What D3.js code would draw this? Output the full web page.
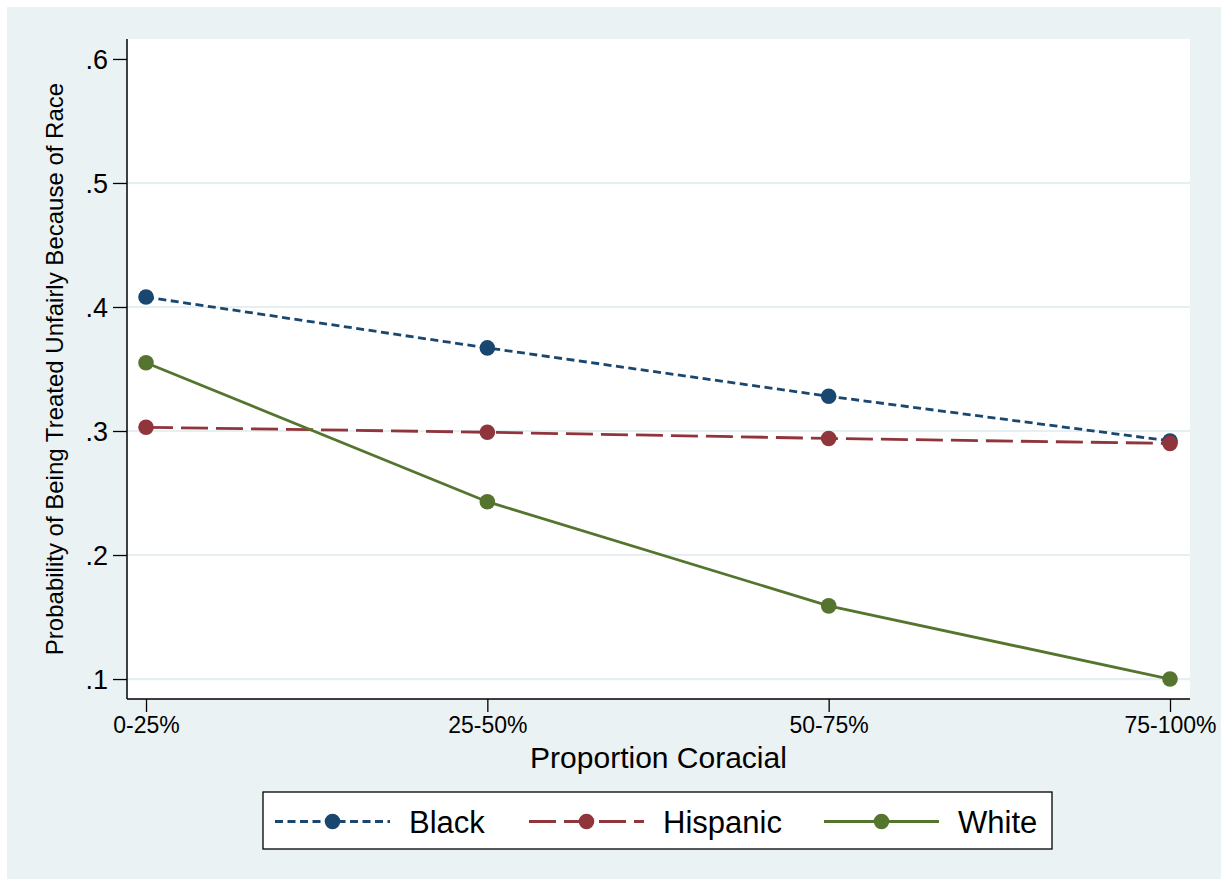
<!DOCTYPE html>
<html><head><meta charset="utf-8">
<script src="https://cdn.jsdelivr.net/npm/d3@7"></script>
<style>body{margin:0;background:#fff}svg{display:block}text{font-family:"Liberation Sans",Arial,sans-serif;fill:#000}</style>
</head><body><svg id="c" width="1227" height="886"></svg>
<script>
const categories = ["0-25%", "25-50%", "50-75%", "75-100%"];
const seriesNames = ["Black", "Hispanic", "White"];
const blackValues = [0.408, 0.367, 0.328, 0.292];
const hispanicValues = [0.303, 0.299, 0.294, 0.290];
const whiteValues = [0.355, 0.243, 0.159, 0.100];
const yTicks = [0.1, 0.2, 0.3, 0.4, 0.5, 0.6];
const yTickLabels = [".1", ".2", ".3", ".4", ".5", ".6"];
const xTitle = "Proportion Coracial";
const yTitle = "Probability of Being Treated Unfairly Because of Race";

const series = [
  {name: seriesNames[0], values: blackValues, color: "#1a476f", dash: "8,4.5"},
  {name: seriesNames[1], values: hispanicValues, color: "#90353b", dash: "27,8"},
  {name: seriesNames[2], values: whiteValues, color: "#55752f", dash: null}
];

const svg = d3.select("#c");
svg.append("rect").attr("x",7).attr("y",7).attr("width",1214).attr("height",872).attr("fill","#eaf2f3");

const L = 127, R = 1190, T = 39, B = 699;
svg.append("rect").attr("x",L).attr("y",T).attr("width",R-L).attr("height",B-T).attr("fill","#fff");

const x = d3.scaleLinear().domain([-0.0557, 3.0586]).range([L, R]);
const y = d3.scaleLinear().domain([0.0839, 0.6161]).range([B, T]);

// gridlines
svg.append("g").selectAll("line").data(yTicks.filter(v => v < 0.55)).join("line")
  .attr("x1", L).attr("x2", R).attr("y1", d => y(d)).attr("y2", d => y(d))
  .attr("stroke", "#e6eff1").attr("stroke-width", 2.2);

// y axis
const yAxis = d3.axisLeft(y).tickValues(yTicks).tickFormat((d,i) => yTickLabels[i]).tickSize(14).tickPadding(5);
const gy = svg.append("g").attr("transform", `translate(${L},0)`).call(yAxis);
gy.select(".domain").remove();
gy.selectAll(".tick line").attr("stroke","#000").attr("stroke-width",1.3);
gy.selectAll(".tick text").style("font-size","27px").attr("dy","0.36em");
svg.append("line").attr("x1",L).attr("x2",L).attr("y1",T).attr("y2",B).attr("stroke","#000").attr("stroke-width",1.5);

// x axis
const xAxis = d3.axisBottom(x).tickValues([0,1,2,3]).tickFormat(i => categories[i]).tickSize(13).tickPadding(5);
const gx = svg.append("g").attr("transform", `translate(0,${B})`).call(xAxis);
gx.select(".domain").remove();
gx.selectAll(".tick line").attr("stroke","#000").attr("stroke-width",1.3);
gx.selectAll(".tick text").style("font-size","23px");
svg.append("line").attr("x1",L).attr("x2",R).attr("y1",B).attr("y2",B).attr("stroke","#000").attr("stroke-width",1.5);

// titles
svg.append("text").attr("x",(L+R)/2).attr("y",768).attr("text-anchor","middle").style("font-size","30px").text(xTitle);
svg.append("text").attr("transform",`translate(63,${(T+B)/2}) rotate(-90)`).attr("text-anchor","middle").style("font-size","24px").text(yTitle);

// lines
const line = d3.line().x((d,i) => x(i)).y(d => y(d));
series.forEach(s => {
  svg.append("path").datum(s.values).attr("d", line).attr("fill","none")
    .attr("stroke", s.color).attr("stroke-width", 2.8)
    .attr("stroke-dasharray", s.dash);
});
series.forEach(s => {
  svg.append("g").selectAll("circle").data(s.values).join("circle")
    .attr("cx",(d,i) => x(i)).attr("cy", d => y(d)).attr("r", 7.8).attr("fill", s.color);
});

// legend
const lg = svg.append("g");
lg.append("rect").attr("x",263).attr("y",792).attr("width",789).attr("height",57).attr("fill","#fff").attr("stroke","#000").attr("stroke-width",1.3);
const legX = [275, 529, 824];
const ly = 821.5;
series.forEach((s,i) => {
  const x0 = legX[i], x1 = x0 + 115;
  lg.append("line").attr("x1",x0).attr("x2",x1).attr("y1",ly).attr("y2",ly)
    .attr("stroke",s.color).attr("stroke-width",2.8).attr("stroke-dasharray", s.dash);
  lg.append("circle").attr("cx",(x0+x1)/2).attr("cy",ly).attr("r",7.8).attr("fill",s.color);
  lg.append("text").attr("x", x1 + 19).attr("y", ly).attr("dy","0.36em").style("font-size","31px").text(s.name);
});
</script></body></html>
